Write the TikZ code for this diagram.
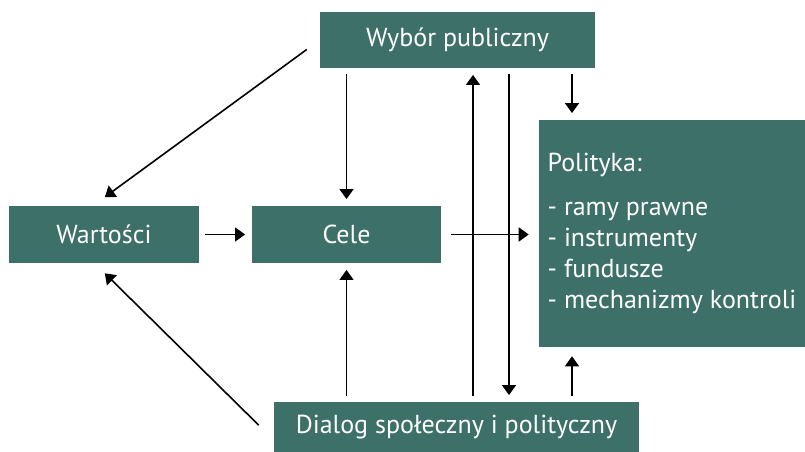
\documentclass[tikz,border=0pt]{standalone}
\usepackage{fontspec}
\setmainfont{PT Sans}
\usetikzlibrary{arrows.meta, positioning, calc}
\definecolor{boxgreen}{RGB}{61,112,104}

\begin{document}
\begin{tikzpicture}[
  x=0.75pt, y=-0.75pt,
  font=\fontsize{19.5}{23.25}\selectfont,
  >={Triangle[length=7.5pt, width=10.5pt]},
  box/.style ={fill=boxgreen, text=white, inner sep=0pt, align=center},
  arr/.style ={->, line width=1.2pt, shorten <=4.5pt, shorten >=5pt},
]
\useasboundingbox (0,0) rectangle (805,452);

% ---------- boxes ----------
\node[box, minimum width=206.25pt, minimum height=42pt]    (wyb)  at (457.5,40)  {Wybór publiczny};
\node[box, minimum width=142.5pt,  minimum height=42.75pt] (war)  at (104,234.5) {Wartości};
\node[box, minimum width=141.75pt, minimum height=42.75pt] (cele) at (346.5,234.5) {Cele};
\node[box, minimum width=199.5pt,  minimum height=170.25pt, align=left] (pol) at (672,233.5)
  {Polityka:\\[10pt]- ramy prawne\\- instrumenty\\- fundusze\\- mechanizmy kontroli};
\node[box, minimum width=273.75pt, minimum height=37.5pt]  (dia)  at (456.5,427) {Dialog społeczny i polityczny};

% x positions of the vertical links
\coordinate (up) at (473,0);
\coordinate (dn) at (509,0);
\coordinate (rt) at (572,0);

% ---------- connectors ----------
\draw[arr, shorten <=12pt, shorten >=11pt] (wyb.west) -- ([xshift=-8.25pt]war.north);
\draw[arr] (wyb.south -| cele.north) -- (cele.north);
\draw[arr] (up |- dia.north) -- (up |- wyb.south);
\draw[arr] (dn |- wyb.south) -- (dn |- dia.north);
\draw[arr] (rt |- wyb.south) -- (rt |- pol.north);
\draw[arr, shorten >=6.75pt] (rt |- dia.north) -- (rt |- pol.south);
\draw[arr] (war) -- (cele);
\draw[arr, shorten <=7.5pt, shorten >=7.5pt] (cele) -- (cele -| pol.west);
\draw[arr] (dia.north -| cele.south) -- (cele.south);
\draw[arr, shorten <=15.8pt, shorten >=10.7pt] ($(dia.west)+(0,13)$) -- ([xshift=-7pt]war.south);

\end{tikzpicture}
\end{document}
